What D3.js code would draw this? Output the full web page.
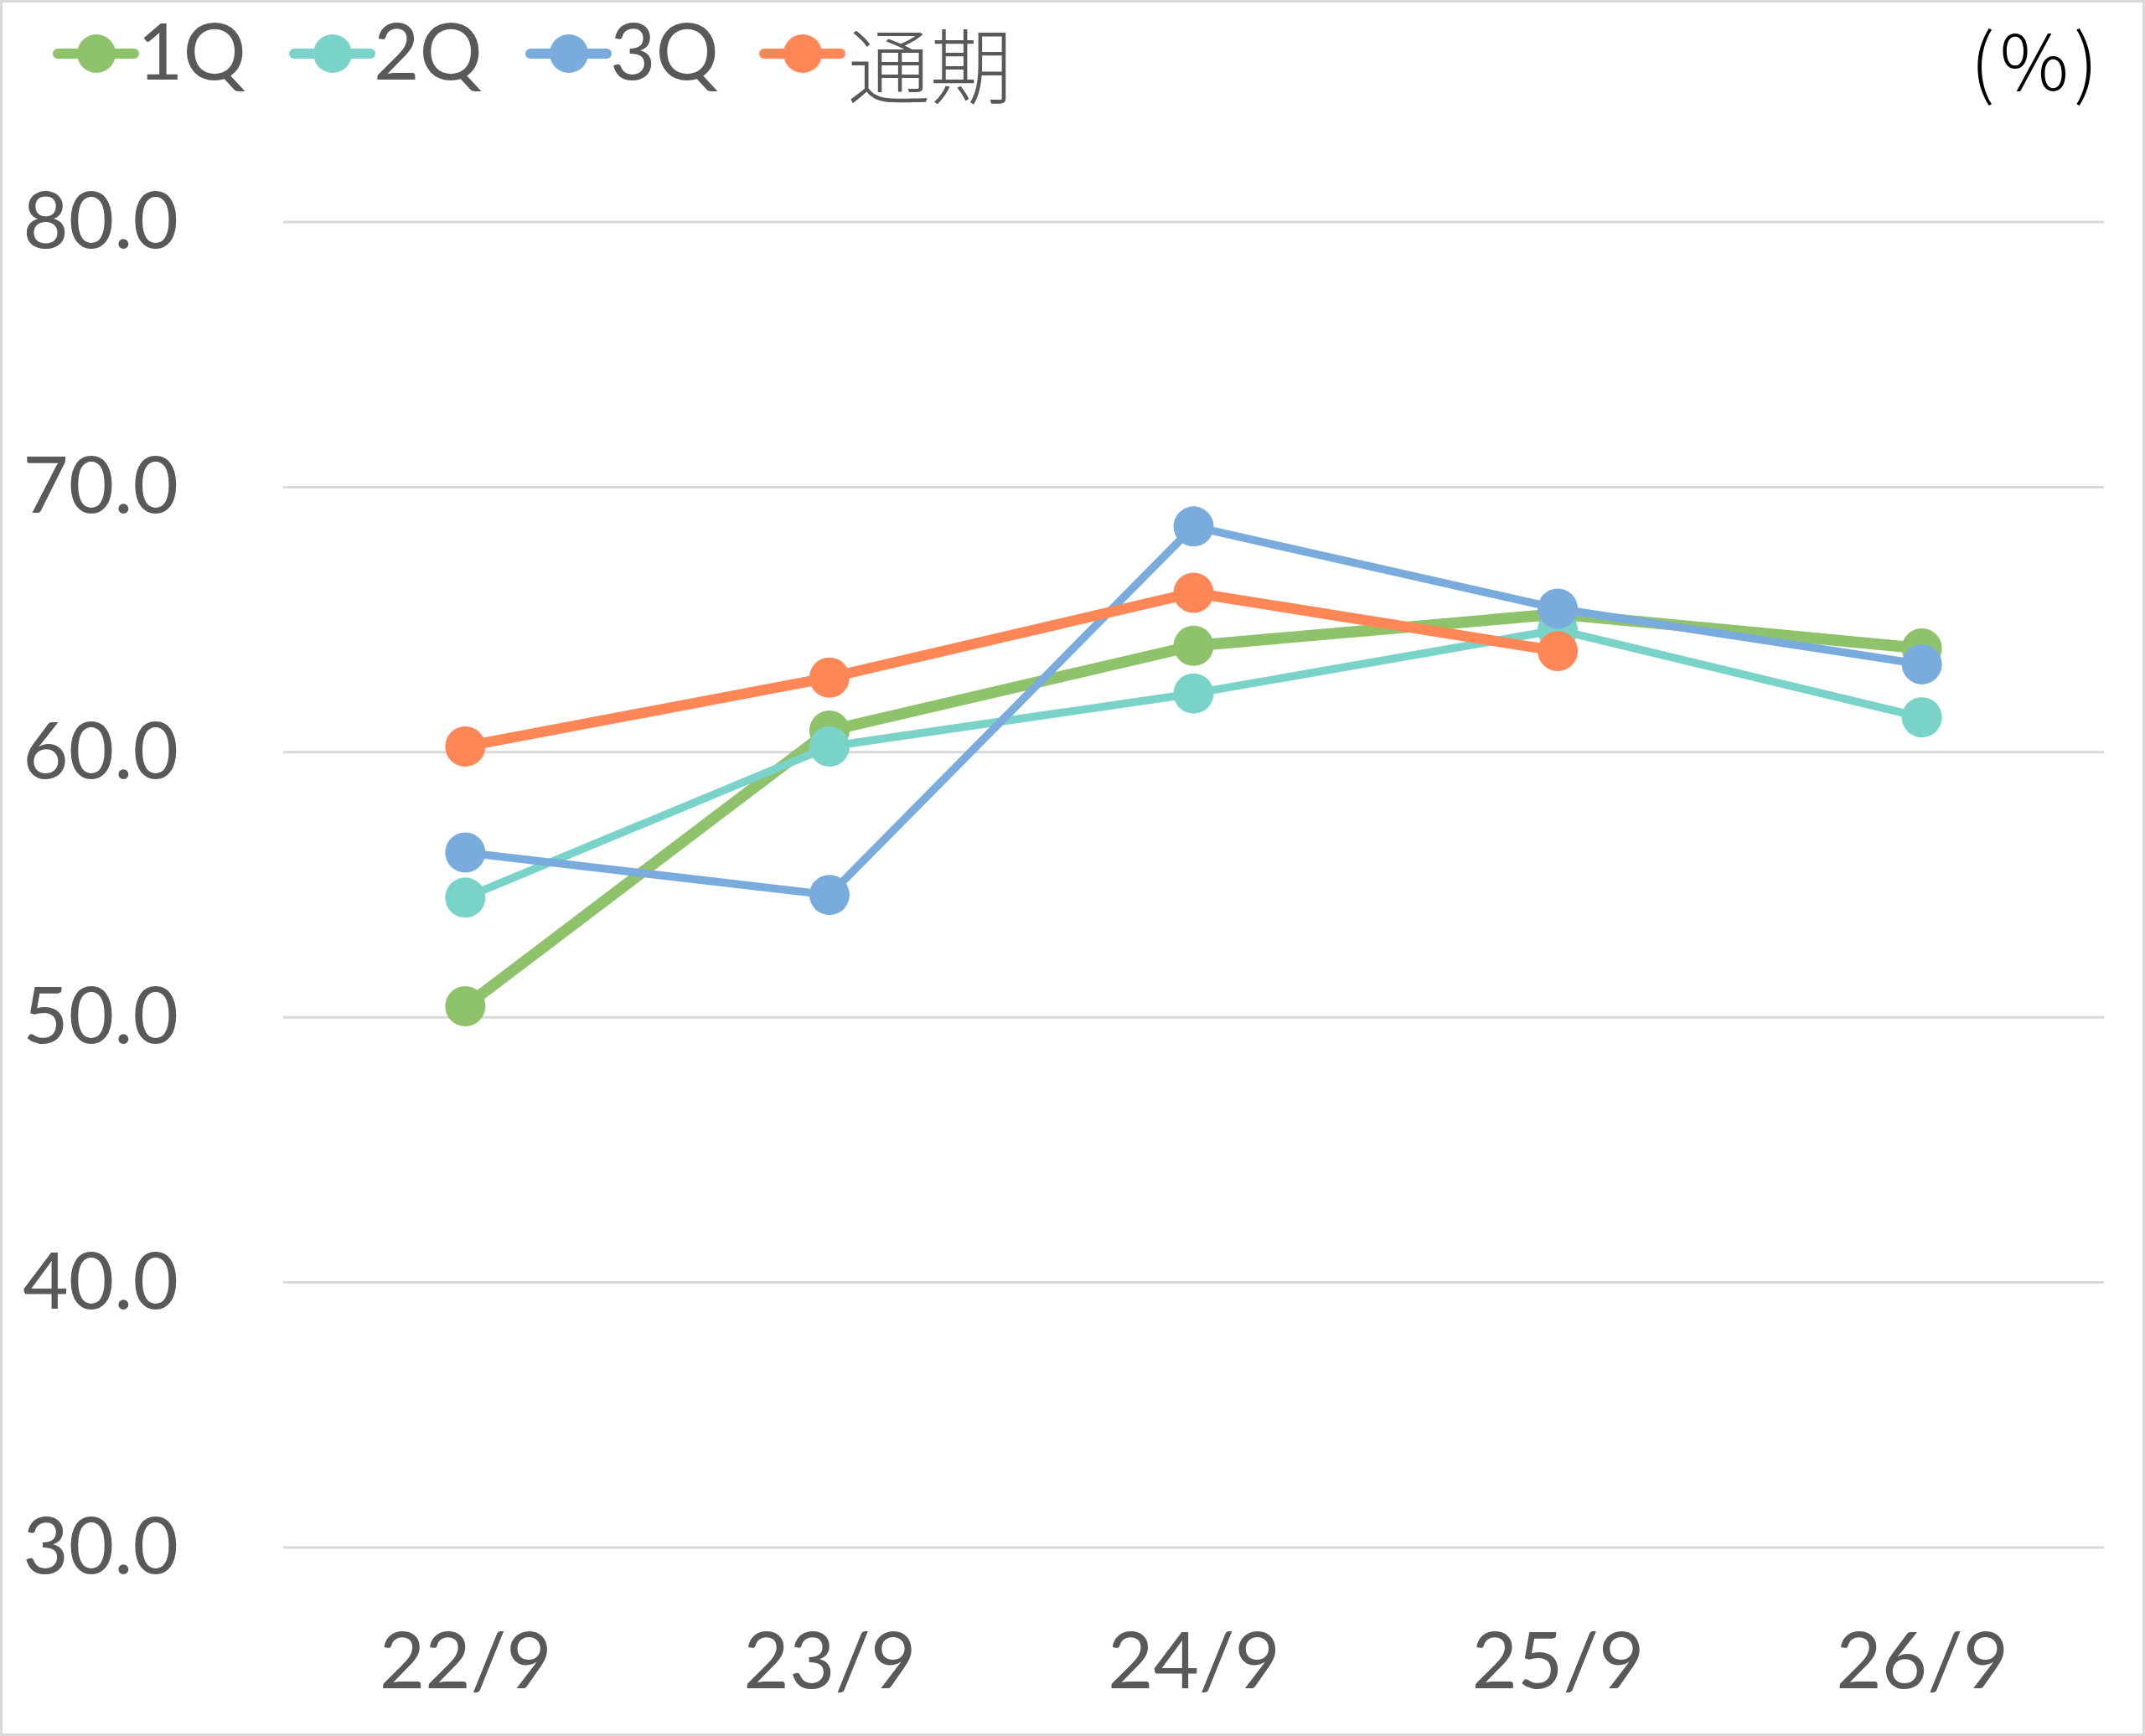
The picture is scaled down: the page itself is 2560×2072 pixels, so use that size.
<!DOCTYPE html>
<html>
<head>
<meta charset="utf-8">
<script src="https://cdn.jsdelivr.net/npm/d3@7/dist/d3.min.js"></script>
<style>
  html, body { margin: 0; padding: 0; background: #ffffff; }
  svg { display: block; }
</style>
</head>
<body>
<svg id="chart" width="2560" height="2072"></svg>
<script>
// ---- data ----
const categories = ["22/9", "23/9", "24/9", "25/9", "26/9"];
const seriesNames = ["1Q", "2Q", "3Q", "通期"];
const values1Q = [50.4, 60.8, 64.0, 65.2, 63.9];
const values2Q = [54.5, 60.2, 62.2, 64.6, 61.3];
const values3Q = [56.2, 54.6, 68.5, 65.4, 63.3];
const valuesFull = [60.2, 62.8, 66.0, 63.8, null];
const yTicks = [30, 40, 50, 60, 70, 80];
const unitLabel = "(%)";

(function () {
// ---- styles ----
const colors = ["#8FC36B", "#7AD3C8", "#79ACDD", "#FF8757"];
const widths = [13.5, 9.5, 9.5, 12.5];
const latin = "Lato, 'Noto Sans', sans-serif";
const cjk = "'Noto Sans CJK JP', 'Noto Sans CJK SC', sans-serif";
const textColor = "#595959";

const svg = d3.select("#chart");
const W = 2560, H = 2072;

svg.append("rect").attr("x", 1.5).attr("y", 1.5)
  .attr("width", W - 3).attr("height", H - 3)
  .attr("fill", "#ffffff").attr("stroke", "#d9d9d9").attr("stroke-width", 3);

const plotL = 338, plotR = 2511, plotT = 264.5, plotB = 1846.5;

const x = d3.scalePoint().domain(categories).range([plotL, plotR]).padding(0.5);
const y = d3.scaleLinear().domain([30, 80]).range([plotB, plotT]);

// gridlines
const grid = svg.append("g").attr("transform", `translate(${plotL},0)`)
  .call(d3.axisLeft(y).tickValues(yTicks).tickSize(-(plotR - plotL)).tickFormat(""));
grid.select(".domain").remove();
grid.selectAll(".tick line").attr("stroke", "#d9d9d9").attr("stroke-width", 3);

// y axis labels
const yAxis = svg.append("g").attr("transform", `translate(${plotL},0)`)
  .call(d3.axisLeft(y).tickValues(yTicks).tickSize(0).tickPadding(125).tickFormat(d3.format(".1f")));
yAxis.select(".domain").remove();
yAxis.selectAll(".tick text")
  .attr("font-family", latin).attr("font-size", 94).attr("fill", textColor)
  .attr("dy", "0.33em");

// x axis labels
const xAxis = svg.append("g").attr("transform", `translate(0,${plotB})`)
  .call(d3.axisBottom(x).tickSize(0).tickPadding(0));
xAxis.select(".domain").remove();
xAxis.selectAll(".tick text")
  .attr("font-family", latin).attr("font-size", 94).attr("fill", textColor)
  .attr("y", 168.5).attr("dy", 0);

// series
const allSeries = [values1Q, values2Q, values3Q, valuesFull];
allSeries.forEach((vals, i) => {
  const pts = categories.map((c, j) => ({ c, v: vals[j] })).filter(d => d.v != null);
  const line = d3.line().x(d => x(d.c)).y(d => y(d.v));
  const g = svg.append("g");
  g.append("path").datum(pts)
    .attr("d", line).attr("fill", "none")
    .attr("stroke", colors[i]).attr("stroke-width", widths[i])
    .attr("stroke-linejoin", "round").attr("stroke-linecap", "round");
  g.selectAll("circle").data(pts).join("circle")
    .attr("cx", d => x(d.c)).attr("cy", d => y(d.v)).attr("r", 24)
    .attr("fill", colors[i]);
});

// legend
const legendX = [69, 351, 633, 912];
const legendY = 64;
seriesNames.forEach((name, i) => {
  const g = svg.append("g").attr("transform", `translate(${legendX[i]},${legendY})`);
  g.append("line").attr("x1", 0).attr("x2", 91).attr("y1", 0).attr("y2", 0)
    .attr("stroke", colors[i]).attr("stroke-width", 12).attr("stroke-linecap", "round");
  g.append("circle").attr("cx", 46).attr("cy", 0).attr("r", 23).attr("fill", colors[i]);
  const isCjk = /[^\x00-\x7F]/.test(name);
  g.append("text").attr("x", isCjk ? 100 : 95).attr("y", isCjk ? 52 : 31)
    .attr("font-family", isCjk ? cjk : latin)
    .attr("font-weight", isCjk ? 300 : 400)
    .attr("font-size", isCjk ? 98 : 94)
    .attr("fill", textColor).text(name);
});

// unit label
svg.append("text").attr("x", 2510).attr("y", 108)
  .attr("text-anchor", "end")
  .attr("font-family", cjk).attr("font-weight", 300).attr("font-size", 92)
  .attr("letter-spacing", 6)
  .attr("fill", "#000000").text(unitLabel);
})();
</script>
</body>
</html>
